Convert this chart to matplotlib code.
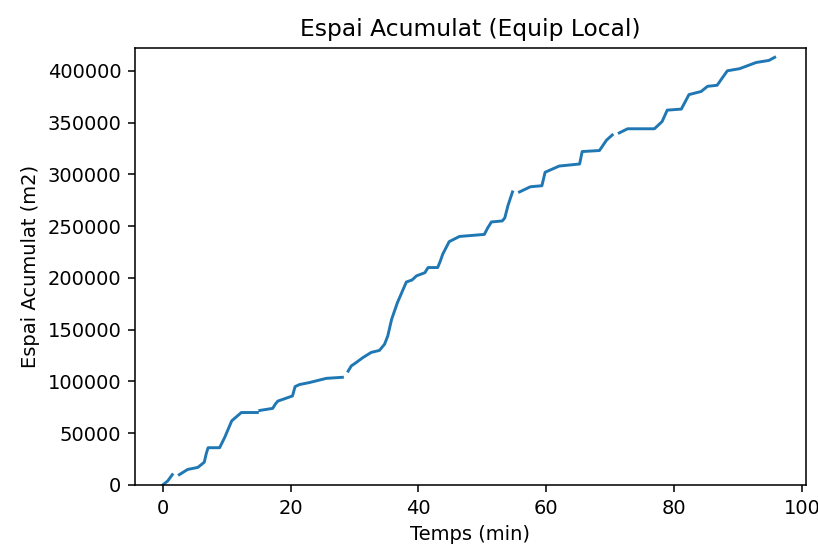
import numpy as np
import matplotlib
matplotlib.use("Agg")
import matplotlib.pyplot as plt

nan = np.nan

# temps (min) i espai acumulat (m2); nan = tall a la línia
temps = [0, 0.8, 1.5, nan, 2.6, 3.9, 5.5, 6.5, 6.8, 7.1, 8.9, 9.7, 10.8, 12.3,
         14.8, nan, 15.2, 17.2, 17.6, 18.0, 20.3, 20.7, 21.4, 23.0, 25.6, 28.1,
         nan, 29.0, 29.5, 30.2, 31.3, 32.6, 33.9, 34.7, 35.2, 35.8, 36.7, 38.1,
         39.0, 39.7, 41.0, 41.5, 43.0, 43.4, 43.8, 44.8, 46.4, 50.3, 50.8, 51.4,
         53.1, 53.5, 54.0, 54.7, nan, 55.8, 57.5, 59.3, 59.8, 62.0, 65.2, 65.6,
         68.3, 69.4, 70.3, nan, 71.4, 72.7, 76.9, 78.1, 78.9, 81.1, 82.3, 84.2,
         85.2, 86.7, 88.3, 90.2, 92.8, 94.8, 95.7]
espai_k = [0, 4, 10, nan, 10, 15, 17, 22, 30, 36, 36, 46, 62, 70,
           70, nan, 72, 74, 78, 81, 86, 95, 97, 99, 103, 104,
           nan, 110, 115, 118, 123, 128, 130, 136, 144, 160, 176, 196,
           198, 202, 205, 210, 210, 216, 223, 235, 240, 242, 248, 254,
           255, 258, 270, 283, nan, 283, 288, 289, 302, 308, 310, 322,
           323, 333, 338, nan, 340, 344, 344, 351, 362, 363, 377, 380,
           385, 386, 400, 402, 408, 410, 413]
espai = [v * 1000 for v in espai_k]

# figura de jupyter (6x4 a 72 dpi) ampliada ~1.94x
DPI = 140
fig = plt.figure(figsize=(818 / DPI, 550 / DPI), dpi=DPI)
ax = fig.add_axes([135 / 818, 65 / 550, 671 / 818, 437 / 550])

ax.plot(temps, espai)
ax.set_xlim(-4.33, 100.6)
ax.set_ylim(0, 422000)
ax.set_title("Espai Acumulat (Equip Local)")
ax.set_xlabel("Temps (min)")
ax.set_ylabel("Espai Acumulat (m2)")

fig.savefig("out.png", dpi=DPI)
